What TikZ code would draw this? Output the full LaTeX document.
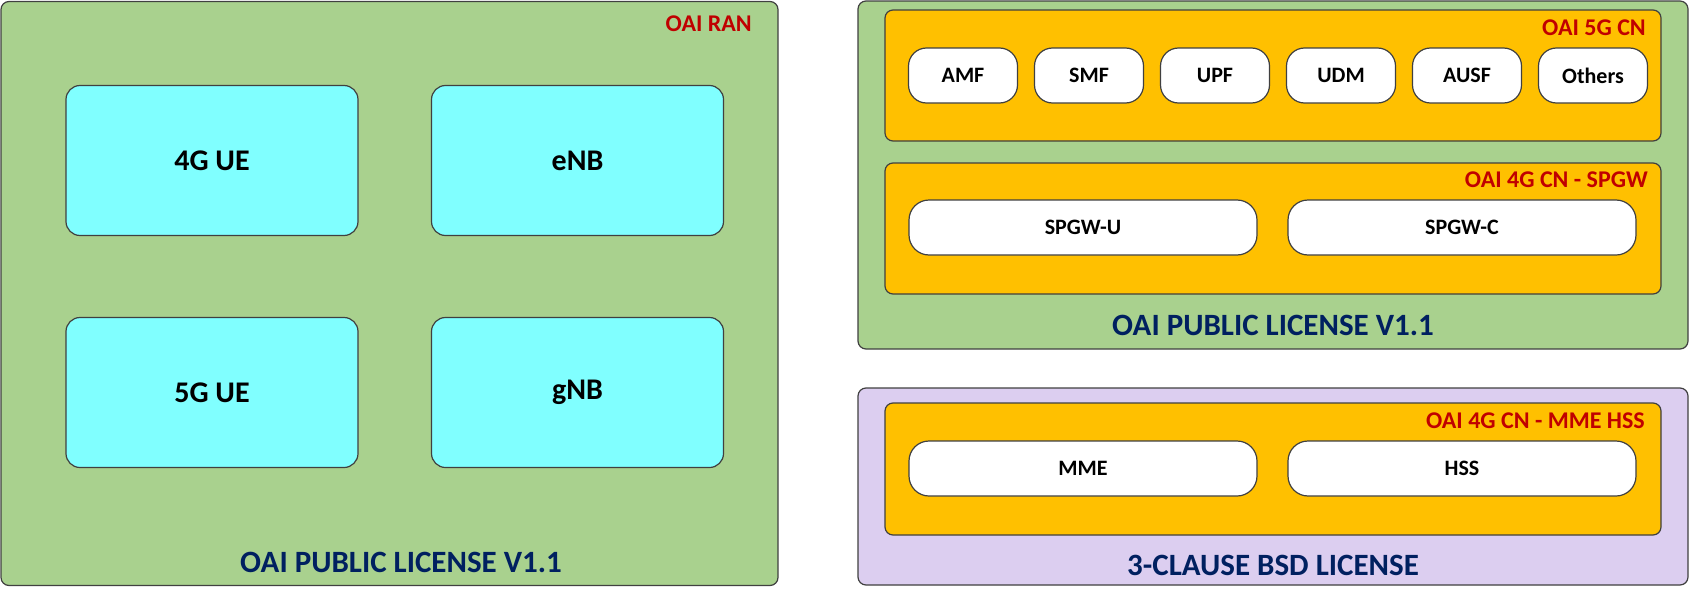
\documentclass[tikz,border=0pt]{standalone}
\usepackage{fontspec}
\setmainfont{Carlito}

\definecolor{ranGreen}{HTML}{A9D18E}
\definecolor{ueCyan}{HTML}{80FFFF}
\definecolor{cnOrange}{HTML}{FFC000}
\definecolor{bsdPurple}{HTML}{DCCEF0}
\definecolor{tagRed}{HTML}{C00000}
\definecolor{licBlue}{HTML}{002060}
\definecolor{edgeGray}{HTML}{404040}

\begin{document}
\begin{tikzpicture}[x=1pt, y=-1pt,
	zone/.style={draw=edgeGray, line width=1.2pt, rounded corners=8pt, inner sep=0pt},
	unit/.style={draw=edgeGray, line width=1.2pt, fill=ueCyan, rounded corners=14pt, inner sep=0pt,
		minimum width=292pt, minimum height=150pt, font=\bfseries\fontsize{30}{36}\selectfont},
	nf/.style={draw=edgeGray, line width=1.2pt, fill=white, rounded corners=18pt, inner sep=0pt,
		minimum width=109pt, minimum height=55pt, font=\bfseries\fontsize{22}{26}\selectfont},
	gw/.style={nf, minimum width=348pt, rounded corners=20pt},
	tag/.style={anchor=east, inner sep=0pt, text=tagRed, font=\bfseries\fontsize{24}{28}\selectfont},
	lic/.style={inner sep=0pt, text=licBlue, font=\bfseries\fontsize{31}{36}\selectfont}]

	\useasboundingbox (0, 0) rectangle (1690, 597);

	% RAN side
	\node (ran) [zone, fill=ranGreen, minimum width=777pt, minimum height=584pt] at (389.5, 293.5) {};
	\node (ue4) [unit] at (212, 160.5) {4G UE};
	\node (enb) [unit] at (577.5, 160.5) {eNB};
	\node (ue5) [unit] at (212, 392.5) {5G UE};
	\node (gnb) [unit] at (577.5, 392.5) {gNB};
	\node (ranTag) [tag] at (752, 24) {OAI RAN};
	\node (ranLic) [lic] at (401, 562) {OAI PUBLIC LICENSE V1.1};

	% core network, OAI licence
	\node (cn) [zone, fill=ranGreen, minimum width=830pt, minimum height=348pt] at (1273, 175) {};
	\node (cn5g) [zone, fill=cnOrange, minimum width=776pt, minimum height=131pt] at (1273, 75.5) {};
	\node (amf) [nf] at (963, 75.5) {AMF};
	\node (smf) [nf] at (1089, 75.5) {SMF};
	\node (upf) [nf] at (1215, 75.5) {UPF};
	\node (udm) [nf] at (1341, 75.5) {UDM};
	\node (ausf) [nf] at (1467, 75.5) {AUSF};
	\node (others) [nf] at (1593, 75.5) {Others};
	\node (cn5gTag) [tag] at (1646, 28) {OAI 5G CN};

	\node (spgw) [zone, fill=cnOrange, minimum width=776pt, minimum height=131pt] at (1273, 228.5) {};
	\node (spgwu) [gw] at (1083, 227.5) {SPGW-U};
	\node (spgwc) [gw] at (1462, 227.5) {SPGW-C};
	\node (spgwTag) [tag] at (1648, 180) {OAI 4G CN - SPGW};
	\node (cnLic) [lic] at (1273, 325) {OAI PUBLIC LICENSE V1.1};

	% core network, BSD licence
	\node (bsd) [zone, fill=bsdPurple, minimum width=830pt, minimum height=197pt] at (1273, 486.5) {};
	\node (mmehss) [zone, fill=cnOrange, minimum width=776pt, minimum height=132pt] at (1273, 469) {};
	\node (mme) [gw] at (1083, 468.5) {MME};
	\node (hss) [gw] at (1462, 468.5) {HSS};
	\node (mmeTag) [tag] at (1645, 421) {OAI 4G CN - MME HSS};
	\node (bsdLic) [lic] at (1273, 565) {3-CLAUSE BSD LICENSE};

\end{tikzpicture}
\end{document}
